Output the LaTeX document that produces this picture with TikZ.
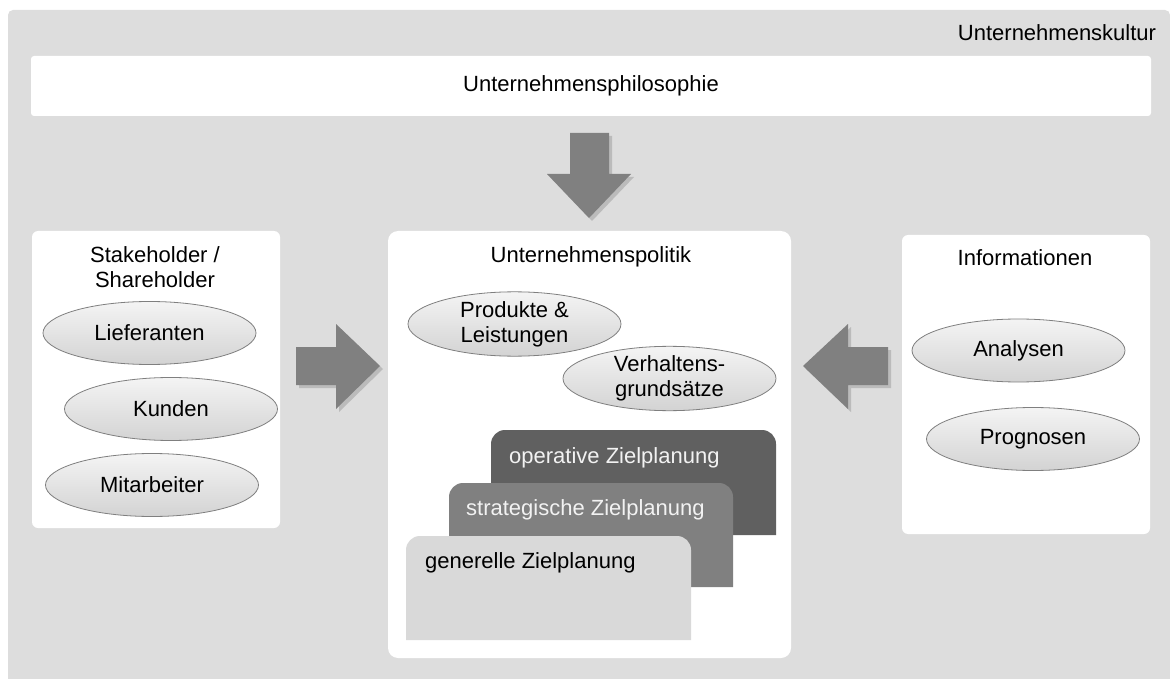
\documentclass[tikz,border=0pt]{standalone}
\usepackage{fontspec}
\setmainfont{Liberation Sans}
\usetikzlibrary{shapes.geometric}

\definecolor{culture}{HTML}{DDDDDD}
\definecolor{arrowgray}{HTML}{808080}
\definecolor{arrowshade}{HTML}{BBBBBB}
\definecolor{opgray}{HTML}{606060}
\definecolor{stgray}{HTML}{808080}
\definecolor{gengray}{HTML}{D9D9D9}
\definecolor{ovalline}{HTML}{7F7F7F}
\definecolor{ovaltop}{HTML}{F4F4F4}
\definecolor{ovalbottom}{HTML}{D3D3D3}
\definecolor{lighttext}{HTML}{F2F2F2}

% block arrow outlines
\newcommand{\ArrowDownPath}{(570,133) -- (609,133) -- (609,174) -- (631,174) -- (589,218) -- (547,174) -- (570,174) -- cycle}
\newcommand{\ArrowRightPath}{(296,347) -- (336,347) -- (336,324) -- (380,366) -- (336,409) -- (336,385) -- (296,385) -- cycle}
\newcommand{\ArrowLeftPath}{(803,366) -- (848,324) -- (848,347) -- (888,347) -- (888,385) -- (848,385) -- (848,409) -- cycle}

\begin{document}
\begin{tikzpicture}[x=1pt,y=-1pt,
  every node/.style={font=\fontsize{22}{25}\selectfont, inner sep=0pt, text=black},
  panel/.style={fill=white, rounded corners=#1},
  panel/.default=6pt,
  oval/.style={ellipse, draw=ovalline, line width=0.8pt,
    top color=ovaltop, bottom color=ovalbottom,
    minimum width=213pt, minimum height=63pt, align=center},
  blockarrow/.style={fill=arrowgray},
  arrowshadow/.style={fill=arrowshade, shift={(3,3)}},
  caption/.style={align=center},
]
\useasboundingbox (0,0) rectangle (1170,679);

% corporate culture background
\fill[culture] (8,679) {[rounded corners=5pt] -- (8,10) -- (1170,10)} -- (1170,679) -- cycle;
\node[anchor=center] (kultur) at (1057,33) {Unternehmenskultur};

% philosophy bar
\node[panel=3pt, minimum width=1120pt, minimum height=60pt] (philo) at (591,86) {Unternehmensphilosophie};

% side and centre panels
\node[panel=6pt, minimum width=248pt, minimum height=297pt] (stake) at (156,379.5) {};
\node[panel=10pt, minimum width=403pt, minimum height=427pt] (politik) at (589.5,444.5) {};
\node[panel=6pt, minimum width=248pt, minimum height=299pt] (info) at (1026,384.5) {};

% panel titles
\node[caption] (staketitle) at (155,267) {Stakeholder /\\Shareholder};
\node (politiktitle) at (591,257) {Unternehmenspolitik};
\node (infotitle) at (1025,258) {Informationen};

% block arrows with drop shadows
\fill[arrowshadow] \ArrowDownPath;
\fill[blockarrow] \ArrowDownPath;
\fill[arrowshadow] \ArrowRightPath;
\fill[blockarrow] \ArrowRightPath;
\fill[arrowshadow] \ArrowLeftPath;
\fill[blockarrow] \ArrowLeftPath;

% stakeholder ovals
\node[oval] (liefer) at (149.5,333) {Lieferanten};
\node[oval] (kunden) at (171,409) {Kunden};
\node[oval] (mitarb) at (152,485) {Mitarbeiter};

% policy ovals
\node[oval] (produkte) at (514.5,324) {Produkte \&\\Leistungen};
\node[oval] (verhalten) at (669.5,378.5) {Verhaltens-\\grundsätze};

% information ovals
\node[oval] (analysen) at (1018.5,350.5) {Analysen};
\node[oval] (prognosen) at (1033,439) {Prognosen};

% stacked planning levels
\fill[opgray] (491,535) {[rounded corners=14pt] -- (491,430) -- (776,430)} -- (776,535) -- cycle;
\node[anchor=west, text=lighttext] (operativ) at (509,458) {operative Zielplanung};
\fill[stgray] (449,587) {[rounded corners=14pt] -- (449,483) -- (733,483)} -- (733,587) -- cycle;
\node[anchor=west, text=lighttext] (strategisch) at (466,510) {strategische Zielplanung};
\fill[gengray] (406,640) {[rounded corners=14pt] -- (406,536) -- (691,536)} -- (691,640) -- cycle;
\node[anchor=west] (generell) at (425,563) {generelle Zielplanung};
\end{tikzpicture}
\end{document}
